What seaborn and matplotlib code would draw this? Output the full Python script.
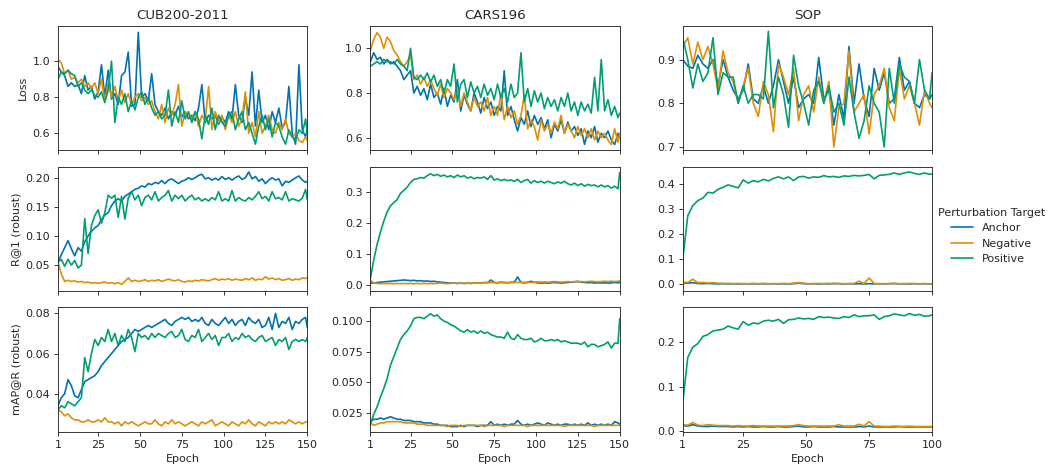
import matplotlib
matplotlib.use("Agg")
import matplotlib.pyplot as plt
import pandas as pd
import seaborn as sns
from matplotlib.lines import Line2D

sns.set_style("ticks")
plt.rcParams["font.family"] = ["DejaVu Sans"]

targets = ["Anchor", "Negative", "Positive"]
datasets = ["CUB200-2011", "CARS196", "SOP"]
metrics = ["Loss", "R@1 (robust)", "mAP@R (robust)"]

epochs_150 = list(range(1, 150, 2)) + [150]
epochs_100 = list(range(1, 100, 2)) + [100]

# ---------------- CUB200-2011 ----------------
cub_loss_anchor = [0.97,0.94,0.92,0.86,0.88, 0.86,0.87,0.82,0.92,0.84, 0.86,0.79,0.83,0.98,0.80,
                   0.95,0.79,0.82,0.76,0.92, 0.94,1.05,0.75,0.76,1.16, 0.80,0.82,0.78,0.93,0.76,
                   0.72,0.70,0.74,0.68,0.72, 0.70,0.75,0.69,0.72,0.68, 0.70,0.67,0.74,0.87,0.66,
                   0.70,0.68,0.70,0.65,0.69, 0.66,0.72,0.68,0.87,0.70, 0.66,0.80,0.70,0.94,0.64,
                   0.84,0.66,0.70,0.62,0.72, 0.66,0.74,0.63,0.66,0.86, 0.60,0.54,0.98,0.62,0.58, 0.62]
cub_loss_negative = [1.01,0.99,0.93,0.95,0.90, 0.91,0.88,0.90,0.86,0.88, 0.85,0.88,0.82,0.90,0.78,
                     0.88,0.80,0.86,0.78,0.84, 0.77,0.82,0.76,0.80,0.82, 0.78,0.80,0.76,0.78,0.72,
                     0.68,0.76,0.66,0.74,0.70, 0.76,0.87,0.64,0.72,0.70, 0.68,0.72,0.64,0.70,0.67,
                     0.86,0.62,0.72,0.66,0.70, 0.62,0.70,0.66,0.72,0.64, 0.68,0.83,0.60,0.66,0.58,
                     0.72,0.60,0.64,0.70,0.62, 0.60,0.66,0.62,0.68,0.60, 0.58,0.60,0.56,0.55,0.58, 0.56]
cub_loss_positive = [0.90,0.94,0.93,0.95,0.93, 0.92,0.86,0.88,0.84,0.82, 0.84,0.81,0.80,0.83,0.77,
                     0.84,1.00,0.66,0.80,0.76, 0.82,0.72,0.78,0.73,0.80, 0.83,0.76,0.80,0.74,0.70,
                     0.72,0.68,0.70,0.84,0.64, 0.72,0.66,0.78,0.68,0.72, 0.66,0.72,0.68,0.57,0.70,
                     0.65,0.74,0.62,0.70,0.66, 0.64,0.70,0.72,0.62,0.68, 0.72,0.62,0.66,0.60,0.54,
                     0.64,0.70,0.62,0.68,0.58, 0.66,0.64,0.58,0.54,0.62, 0.58,0.56,0.62,0.60,0.68, 0.60]

cub_r1_anchor = [0.055,0.068,0.080,0.092,0.078, 0.066,0.080,0.074,0.090,0.100, 0.108,0.114,0.118,0.128,0.136,
                 0.140,0.152,0.160,0.164,0.160, 0.168,0.172,0.176,0.180,0.182, 0.186,0.184,0.190,0.188,0.192,
                 0.190,0.195,0.190,0.196,0.198, 0.194,0.190,0.194,0.196,0.200, 0.197,0.200,0.204,0.206,0.198,
                 0.200,0.196,0.199,0.196,0.202, 0.197,0.200,0.196,0.200,0.203, 0.197,0.200,0.210,0.198,0.202,
                 0.194,0.198,0.190,0.196,0.200, 0.196,0.198,0.186,0.194,0.192, 0.196,0.200,0.203,0.196,0.192, 0.194]
cub_r1_negative = [0.055,0.035,0.022,0.024,0.022, 0.023,0.021,0.022,0.020,0.021, 0.019,0.020,0.019,0.020,0.021,
                   0.019,0.020,0.018,0.020,0.017, 0.022,0.028,0.022,0.024,0.022, 0.023,0.025,0.022,0.024,0.023,
                   0.025,0.022,0.024,0.026,0.024, 0.023,0.025,0.022,0.021,0.023, 0.022,0.024,0.023,0.025,0.024,
                   0.023,0.025,0.027,0.024,0.026, 0.025,0.027,0.024,0.026,0.025, 0.024,0.027,0.025,0.028,0.024,
                   0.026,0.025,0.030,0.026,0.028, 0.025,0.027,0.024,0.025,0.027, 0.024,0.026,0.025,0.028,0.027, 0.029]
cub_r1_positive = [0.055,0.060,0.048,0.060,0.050, 0.058,0.045,0.050,0.130,0.070, 0.118,0.135,0.145,0.122,0.140,
                   0.170,0.165,0.170,0.132,0.168, 0.129,0.165,0.176,0.162,0.170, 0.152,0.166,0.170,0.162,0.176,
                   0.160,0.166,0.170,0.178,0.160, 0.170,0.164,0.170,0.160,0.166, 0.170,0.162,0.166,0.160,0.164,
                   0.160,0.166,0.162,0.176,0.160, 0.164,0.160,0.178,0.160,0.166, 0.162,0.160,0.166,0.162,0.168,
                   0.176,0.164,0.168,0.160,0.176, 0.164,0.166,0.162,0.176,0.160, 0.164,0.162,0.160,0.165,0.180, 0.162]

cub_map_anchor = [0.034,0.038,0.040,0.047,0.044, 0.039,0.038,0.042,0.046,0.047, 0.048,0.049,0.051,0.054,0.056,
                  0.058,0.060,0.062,0.064,0.066, 0.067,0.068,0.070,0.072,0.071, 0.072,0.073,0.074,0.073,0.074,
                  0.075,0.076,0.077,0.075,0.074, 0.076,0.077,0.078,0.077,0.078, 0.076,0.077,0.076,0.078,0.075,
                  0.074,0.077,0.075,0.074,0.076, 0.078,0.075,0.077,0.074,0.076, 0.077,0.074,0.078,0.076,0.075,
                  0.077,0.073,0.074,0.078,0.072, 0.080,0.073,0.076,0.075,0.078, 0.072,0.076,0.075,0.077,0.078, 0.073]
cub_map_negative = [0.032,0.031,0.029,0.030,0.028, 0.027,0.027,0.026,0.026,0.027, 0.026,0.026,0.027,0.026,0.028,
                    0.026,0.026,0.025,0.026,0.024, 0.026,0.025,0.026,0.025,0.024, 0.025,0.026,0.025,0.025,0.027,
                    0.025,0.024,0.026,0.025,0.027, 0.025,0.026,0.025,0.024,0.025, 0.026,0.025,0.024,0.026,0.025,
                    0.026,0.027,0.024,0.025,0.026, 0.025,0.024,0.026,0.025,0.024, 0.026,0.025,0.027,0.025,0.024,
                    0.026,0.025,0.024,0.026,0.025, 0.026,0.025,0.026,0.025,0.027, 0.026,0.025,0.026,0.025,0.026, 0.026]
cub_map_positive = [0.032,0.034,0.033,0.036,0.035, 0.034,0.036,0.038,0.058,0.051, 0.060,0.067,0.064,0.068,0.066,
                    0.072,0.066,0.070,0.064,0.069, 0.066,0.072,0.068,0.061,0.070, 0.068,0.069,0.067,0.070,0.068,
                    0.070,0.069,0.068,0.070,0.071, 0.068,0.069,0.072,0.067,0.066, 0.069,0.068,0.072,0.066,0.068,
                    0.070,0.067,0.069,0.064,0.068, 0.068,0.070,0.066,0.068,0.067, 0.070,0.068,0.069,0.067,0.066,
                    0.068,0.069,0.066,0.067,0.068, 0.064,0.067,0.066,0.068,0.062, 0.066,0.067,0.066,0.067,0.066, 0.068]

# ---------------- CARS196 ----------------
cars_loss_anchor = [0.94,0.98,0.95,0.96,0.93, 0.95,0.93,0.94,0.92,0.90, 0.86,0.88,0.90,0.80,0.83,
                    0.79,0.82,0.77,0.84,0.78, 0.80,0.75,0.82,0.74,0.79, 0.76,0.86,0.72,0.79,0.75,
                    0.72,0.80,0.76,0.71,0.78, 0.73,0.76,0.70,0.74,0.72, 0.90,0.70,0.74,0.68,0.63,
                    0.69,0.66,0.72,0.65,0.70, 0.66,0.69,0.64,0.68,0.60, 0.66,0.63,0.68,0.62,0.67,
                    0.63,0.65,0.61,0.64,0.57, 0.63,0.60,0.65,0.58,0.62, 0.60,0.63,0.59,0.57,0.62, 0.60]
cars_loss_negative = [0.99,1.04,1.07,1.05,1.00, 1.05,1.03,0.99,0.97,0.94, 0.92,0.94,0.97,0.86,0.88,
                      0.84,0.87,0.83,0.86,0.82, 0.79,0.84,0.78,0.82,0.80, 0.77,0.82,0.74,0.80,0.76,
                      0.72,0.78,0.74,0.76,0.72, 0.78,0.70,0.74,0.70,0.80, 0.68,0.74,0.69,0.72,0.66,
                      0.70,0.79,0.64,0.68,0.65, 0.59,0.68,0.63,0.66,0.62, 0.67,0.64,0.70,0.62,0.66,
                      0.63,0.60,0.65,0.61,0.64, 0.60,0.64,0.59,0.63,0.60, 0.62,0.59,0.57,0.64,0.58, 0.62]
cars_loss_positive = [0.92,0.93,0.94,0.93,0.95, 0.94,0.94,0.93,0.95,0.93, 0.92,0.90,1.00,0.87,0.86,
                      0.88,0.86,0.89,0.85,0.88, 0.83,0.86,0.80,0.86,0.83, 0.93,0.76,0.84,0.86,0.78,
                      0.85,0.80,0.83,0.78,0.84, 0.79,0.82,0.77,0.84,0.78, 0.82,0.76,0.84,0.78,0.80,
                      0.98,0.76,0.82,0.74,0.81, 0.76,0.80,0.73,0.78,0.74, 0.77,0.72,0.78,0.74,0.80,
                      0.72,0.76,0.70,0.76,0.72, 0.75,0.71,0.87,0.72,0.95, 0.72,0.77,0.70,0.74,0.69, 0.71]

cars_r1_anchor = [0.006,0.006,0.008,0.009,0.010, 0.011,0.012,0.013,0.014,0.015, 0.016,0.015,0.014,0.015,0.013,
                  0.014,0.012,0.013,0.011,0.012, 0.010,0.009,0.008,0.007,0.006, 0.006,0.005,0.006,0.005,0.006,
                  0.005,0.006,0.007,0.006,0.008, 0.007,0.016,0.008,0.007,0.009, 0.008,0.007,0.008,0.009,0.026,
                  0.008,0.007,0.008,0.012,0.008, 0.007,0.006,0.007,0.006,0.007, 0.008,0.007,0.006,0.007,0.008,
                  0.009,0.010,0.012,0.009,0.008, 0.007,0.008,0.006,0.007,0.006, 0.007,0.006,0.007,0.008,0.007, 0.008]
cars_r1_negative = [0.016,0.006,0.005,0.004,0.005, 0.004,0.005,0.004,0.005,0.004, 0.005,0.004,0.005,0.004,0.005,
                    0.004,0.005,0.004,0.005,0.004, 0.005,0.006,0.005,0.004,0.005, 0.006,0.005,0.006,0.005,0.006,
                    0.005,0.006,0.007,0.006,0.007, 0.008,0.007,0.008,0.007,0.008, 0.007,0.008,0.009,0.008,0.008,
                    0.009,0.008,0.009,0.008,0.009, 0.010,0.009,0.010,0.009,0.010, 0.011,0.010,0.009,0.010,0.011,
                    0.010,0.011,0.010,0.011,0.010, 0.011,0.012,0.011,0.010,0.011, 0.012,0.011,0.012,0.011,0.012, 0.013]
cars_r1_positive = [0.020,0.080,0.130,0.170,0.205, 0.235,0.255,0.265,0.275,0.295, 0.305,0.315,0.330,0.340,0.342,
                    0.346,0.344,0.352,0.358,0.352, 0.356,0.350,0.354,0.348,0.352, 0.346,0.354,0.348,0.352,0.344,
                    0.348,0.342,0.346,0.344,0.348, 0.340,0.352,0.338,0.342,0.336, 0.340,0.336,0.338,0.334,0.340,
                    0.330,0.336,0.340,0.328,0.336, 0.330,0.334,0.328,0.334,0.330, 0.326,0.332,0.328,0.334,0.326,
                    0.322,0.328,0.320,0.326,0.318, 0.324,0.320,0.322,0.316,0.322, 0.316,0.320,0.312,0.318,0.310, 0.362]

cars_map_anchor = [0.018,0.020,0.020,0.021,0.020, 0.021,0.022,0.021,0.020,0.020, 0.019,0.019,0.019,0.018,0.018,
                   0.018,0.017,0.017,0.017,0.016, 0.016,0.015,0.015,0.015,0.014, 0.014,0.014,0.015,0.014,0.015,
                   0.015,0.015,0.014,0.015,0.015, 0.015,0.018,0.015,0.016,0.015, 0.016,0.015,0.016,0.016,0.019,
                   0.016,0.015,0.016,0.015,0.016, 0.017,0.016,0.015,0.017,0.016, 0.015,0.016,0.015,0.016,0.016,
                   0.015,0.016,0.015,0.016,0.015, 0.017,0.015,0.016,0.015,0.016, 0.015,0.016,0.015,0.018,0.017, 0.016]
cars_map_negative = [0.017,0.015,0.016,0.017,0.017, 0.018,0.018,0.018,0.018,0.018, 0.017,0.017,0.017,0.017,0.016,
                     0.016,0.016,0.015,0.015,0.015, 0.015,0.015,0.015,0.014,0.015, 0.015,0.015,0.014,0.015,0.015,
                     0.015,0.015,0.015,0.015,0.014, 0.015,0.015,0.015,0.015,0.015, 0.014,0.015,0.015,0.015,0.015,
                     0.015,0.015,0.014,0.015,0.015, 0.015,0.015,0.015,0.015,0.015, 0.015,0.015,0.015,0.014,0.015,
                     0.015,0.015,0.015,0.015,0.015, 0.015,0.015,0.014,0.015,0.015, 0.015,0.015,0.015,0.015,0.015, 0.015]
cars_map_positive = [0.016,0.024,0.030,0.038,0.045, 0.053,0.064,0.071,0.078,0.085, 0.089,0.092,0.096,0.102,0.103,
                     0.103,0.102,0.104,0.106,0.104, 0.105,0.102,0.100,0.099,0.097, 0.096,0.094,0.092,0.091,0.093,
                     0.091,0.092,0.090,0.092,0.090, 0.091,0.089,0.088,0.087,0.087, 0.086,0.091,0.086,0.085,0.089,
                     0.086,0.085,0.085,0.086,0.083, 0.084,0.086,0.084,0.084,0.085, 0.084,0.085,0.083,0.084,0.083,
                     0.082,0.082,0.082,0.081,0.083, 0.079,0.081,0.081,0.079,0.080, 0.081,0.083,0.078,0.082,0.082, 0.102]

# ---------------- SOP ----------------
sop_loss_anchor = [0.90,0.885,0.88,0.91,0.89, 0.88,0.90,0.84,0.90,0.86, 0.83,0.81,0.83,0.89,0.81,
                   0.80,0.84,0.80,0.84,0.90, 0.85,0.80,0.86,0.79,0.81, 0.82,0.80,0.905,0.81,0.83,
                   0.75,0.82,0.765,0.93,0.80, 0.89,0.81,0.77,0.88,0.83, 0.87,0.80,0.81,0.905,0.83,
                   0.85,0.80,0.79,0.82,0.81, 0.82]
sop_loss_negative = [0.93,0.95,0.89,0.94,0.90, 0.93,0.89,0.83,0.92,0.87, 0.85,0.80,0.84,0.88,0.80,
                     0.77,0.85,0.82,0.735,0.89, 0.86,0.82,0.88,0.76,0.82, 0.84,0.78,0.86,0.80,0.85,
                     0.70,0.79,0.80,0.92,0.78, 0.80,0.82,0.73,0.82,0.84, 0.88,0.79,0.76,0.88,0.81,
                     0.84,0.80,0.75,0.83,0.80, 0.79]
sop_loss_positive = [0.95,0.90,0.835,0.89,0.85, 0.87,0.95,0.82,0.87,0.86, 0.86,0.80,0.84,0.80,0.82,
                     0.82,0.81,0.965,0.79,0.86, 0.82,0.745,0.91,0.84,0.80, 0.75,0.83,0.85,0.80,0.84,
                     0.78,0.80,0.75,0.86,0.78, 0.72,0.76,0.84,0.80,0.78, 0.70,0.88,0.80,0.89,0.86,
                     0.85,0.80,0.90,0.83,0.81, 0.87]

sop_r1_anchor = [0.005,0.004,0.006,0.003,0.002, 0.003,0.002,0.001,0.002,0.001, 0.002,0.001,0.002,0.001,0.002,
                 0.001,0.002,0.001,0.002,0.001, 0.002,0.001,0.002,0.004,0.002, 0.001,0.002,0.001,0.002,0.001,
                 0.003,0.002,0.001,0.002,0.001, 0.002,0.001,0.002,0.001,0.002, 0.001,0.002,0.003,0.001,0.002,
                 0.001,0.002,0.001,0.002,0.001, 0.002]
sop_r1_negative = [0.008,0.007,0.020,0.006,0.007, 0.005,0.006,0.004,0.003,0.003, 0.002,0.003,0.002,0.002,0.003,
                   0.002,0.003,0.002,0.002,0.002, 0.003,0.002,0.004,0.006,0.004, 0.002,0.002,0.003,0.002,0.003,
                   0.002,0.003,0.002,0.002,0.003, 0.012,0.002,0.025,0.003,0.002, 0.002,0.002,0.003,0.002,0.002,
                   0.003,0.002,0.002,0.002,0.002, 0.002]
sop_r1_positive = [0.100,0.275,0.315,0.335,0.345, 0.368,0.365,0.380,0.388,0.398, 0.392,0.386,0.418,0.405,0.415,
                   0.410,0.420,0.414,0.424,0.430, 0.422,0.430,0.415,0.430,0.432, 0.425,0.430,0.428,0.435,0.430,
                   0.432,0.428,0.434,0.432,0.436, 0.434,0.436,0.440,0.422,0.436, 0.438,0.440,0.446,0.440,0.446,
                   0.450,0.444,0.440,0.446,0.440, 0.442]

sop_map_anchor = [0.013,0.012,0.015,0.012,0.011, 0.011,0.012,0.011,0.011,0.011, 0.010,0.011,0.010,0.011,0.010,
                  0.010,0.011,0.010,0.010,0.011, 0.010,0.010,0.011,0.012,0.010, 0.010,0.011,0.010,0.010,0.010,
                  0.011,0.010,0.010,0.010,0.010, 0.011,0.010,0.012,0.010,0.010, 0.010,0.010,0.010,0.011,0.010,
                  0.010,0.010,0.010,0.010,0.010, 0.010]
sop_map_negative = [0.015,0.014,0.020,0.014,0.013, 0.015,0.014,0.013,0.013,0.013, 0.012,0.013,0.012,0.012,0.013,
                    0.012,0.012,0.012,0.012,0.012, 0.012,0.012,0.013,0.015,0.013, 0.012,0.012,0.012,0.012,0.012,
                    0.012,0.015,0.012,0.012,0.012, 0.016,0.012,0.022,0.012,0.012, 0.011,0.011,0.012,0.011,0.011,
                    0.012,0.011,0.011,0.011,0.011, 0.011]
sop_map_positive = [0.065,0.165,0.188,0.196,0.212, 0.216,0.224,0.226,0.228,0.235, 0.231,0.228,0.245,0.237,0.242,
                    0.240,0.246,0.248,0.246,0.250, 0.241,0.249,0.250,0.253,0.251, 0.252,0.250,0.256,0.254,0.255,
                    0.253,0.252,0.256,0.254,0.260, 0.256,0.258,0.258,0.260,0.250, 0.256,0.258,0.262,0.260,0.258,
                    0.263,0.259,0.261,0.257,0.258, 0.260]

# ---------------- assembly ----------------
series = {
    (0, 0): (cub_loss_anchor, cub_loss_negative, cub_loss_positive),
    (1, 0): (cub_r1_anchor, cub_r1_negative, cub_r1_positive),
    (2, 0): (cub_map_anchor, cub_map_negative, cub_map_positive),
    (0, 1): (cars_loss_anchor, cars_loss_negative, cars_loss_positive),
    (1, 1): (cars_r1_anchor, cars_r1_negative, cars_r1_positive),
    (2, 1): (cars_map_anchor, cars_map_negative, cars_map_positive),
    (0, 2): (sop_loss_anchor, sop_loss_negative, sop_loss_positive),
    (1, 2): (sop_r1_anchor, sop_r1_negative, sop_r1_positive),
    (2, 2): (sop_map_anchor, sop_map_negative, sop_map_positive),
}
col_epochs = [epochs_150, epochs_150, epochs_100]
col_xticks = [[1, 25, 50, 75, 100, 125, 150], [1, 25, 50, 75, 100, 125, 150], [1, 25, 50, 75, 100]]
col_xlim = [(1, 150), (1, 150), (1, 100)]

ylims = {
    (0, 0): (0.505, 1.195), (1, 0): (0.0053, 0.219), (2, 0): (0.021, 0.083),
    (0, 1): (0.543, 1.10), (1, 1): (-0.02, 0.381), (2, 1): (0.0097, 0.1112),
    (0, 2): (0.692, 0.977), (1, 2): (-0.028, 0.471), (2, 2): (-0.001, 0.2767),
}
yticks = {
    (0, 0): [0.6, 0.8, 1.0], (1, 0): [0.05, 0.10, 0.15, 0.20], (2, 0): [0.04, 0.06, 0.08],
    (0, 1): [0.6, 0.8, 1.0], (1, 1): [0.0, 0.1, 0.2, 0.3], (2, 1): [0.025, 0.050, 0.075, 0.100],
    (0, 2): [0.7, 0.8, 0.9], (1, 2): [0.0, 0.1, 0.2, 0.3, 0.4], (2, 2): [0.0, 0.1, 0.2],
}

palette = sns.color_palette("colorblind", 3)

fig, axes = plt.subplots(3, 3, figsize=(13.15, 5.9), dpi=80, sharex="col")
fig.subplots_adjust(left=0.0551, right=0.886, top=0.945, bottom=0.085, wspace=0.253, hspace=0.13)

for (r, c), vals in series.items():
    ax = axes[r, c]
    ep = col_epochs[c]
    rows = []
    for t, v in zip(targets, vals):
        for e, y in zip(ep, v):
            rows.append({"Epoch": e, "value": y, "Perturbation Target": t})
    df = pd.DataFrame(rows)
    sns.lineplot(data=df, x="Epoch", y="value", hue="Perturbation Target",
                 hue_order=targets, palette=palette, ax=ax, legend=False, linewidth=1.5)
    ax.set_xlim(*col_xlim[c])
    ax.set_xticks(col_xticks[c])
    ax.set_ylim(*ylims[(r, c)])
    ax.set_yticks(yticks[(r, c)])
    ax.set_ylabel(metrics[r] if c == 0 else "")
    ax.set_xlabel("Epoch" if r == 2 else "")
    if r == 0:
        ax.set_title(datasets[c])

handles = [Line2D([0], [0], color=col, lw=1.5) for col in palette]
fig.legend(handles, targets, title="Perturbation Target", loc="center left",
           bbox_to_anchor=(0.882, 0.5), frameon=False)

fig.savefig("out.png", dpi=80)
